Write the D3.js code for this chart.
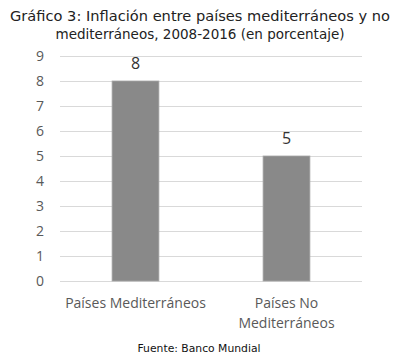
<!DOCTYPE html>
<html><head><meta charset="utf-8">
<script src="https://cdn.jsdelivr.net/npm/d3@7"></script>
<style>body{margin:0;background:#fff}svg{display:block}</style>
</head><body>
<svg id="c" width="401" height="364"></svg>
<script>
const categories = [["Países Mediterráneos"], ["Países No", "Mediterráneos"]];
const values = [8, 5];
const yTicks = [0,1,2,3,4,5,6,7,8,9];
const titleLines = ["Gráfico 3: Inflación entre países mediterráneos y no", "mediterráneos, 2008-2016 (en porcentaje)"];
const source = "Fuente: Banco Mundial";

const svg = d3.select("#c");
const x = d3.scaleBand().domain(d3.range(values.length)).range([60, 362]).paddingInner(0.69).paddingOuter(0.345);
const y = d3.scaleLinear().domain([0, 9]).range([281, 56]);

const titleWidths = [380, 289];
svg.append("g").selectAll("text").data(titleLines).join("text")
  .attr("x", 200).attr("y", (d,i) => 20.5 + i*18)
  .attr("text-anchor", "middle")
  .attr("font-family", "'DejaVu Sans',sans-serif")
  .attr("textLength", (d,i) => titleWidths[i]).attr("lengthAdjust", "spacingAndGlyphs")
  .attr("font-size", 14.5).attr("fill", "#222").text(d => d);

// gridlines
svg.append("g").selectAll("line").data(yTicks).join("line")
  .attr("x1", 60).attr("x2", 362)
  .attr("y1", d => y(d)+0.5).attr("y2", d => y(d)+0.5)
  .attr("stroke", "#d9d9d9").attr("stroke-width", 1);

const yAxis = d3.axisLeft(y).tickValues(yTicks).tickSize(0).tickPadding(0);
const ga = svg.append("g").attr("transform", "translate(44,0)").call(yAxis);
ga.select(".domain").remove();
ga.selectAll("text").attr("font-family", "'Open Sans',sans-serif").attr("font-size", 14).attr("fill", "#595959");

svg.append("g").selectAll("rect").data(values).join("rect")
  .attr("x", (d,i) => x(i)).attr("width", x.bandwidth())
  .attr("y", d => y(d)).attr("height", d => y(0) - y(d))
  .attr("fill", "#898989").attr("stroke", "#a6a6a6").attr("stroke-width", 0.8);

svg.append("g").selectAll("text").data(values).join("text")
  .attr("x", (d,i) => x(i) + x.bandwidth()/2).attr("y", d => y(d) - 12)
  .attr("text-anchor", "middle")
  .attr("font-family", "'Open Sans',sans-serif").attr("font-size", 16).attr("fill", "#333")
  .text(d => d);

const cg = svg.append("g").selectAll("text").data(categories).join("text")
  .attr("x", (d,i) => x(i) + x.bandwidth()/2)
  .attr("text-anchor", "middle")
  .attr("font-family", "'Open Sans',sans-serif").attr("font-size", 14).attr("fill", "#595959");
cg.each(function(d){
  const t = d3.select(this);
  d.forEach((line, j) => t.append("tspan").attr("x", t.attr("x")).attr("y", 308 + j*20).text(line));
});

svg.append("text").attr("x", 199).attr("y", 352).attr("text-anchor", "middle")
  .attr("font-family", "'DejaVu Sans',sans-serif")
  .attr("textLength", 123).attr("lengthAdjust", "spacingAndGlyphs")
  .attr("font-size", 10.5).attr("fill", "#111").text(source);
</script>
</body></html>
